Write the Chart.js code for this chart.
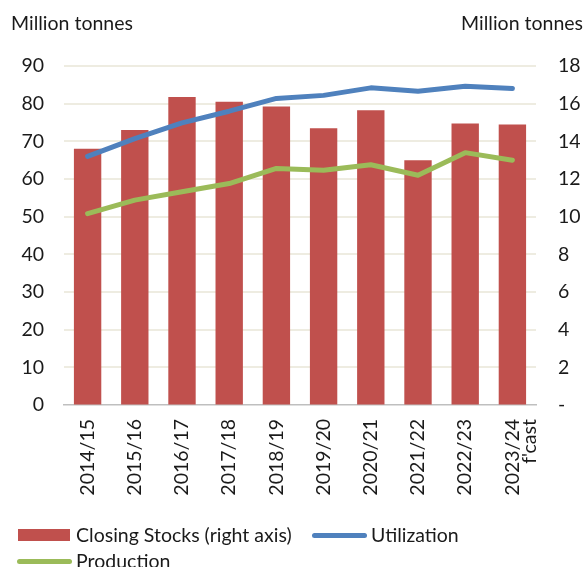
<!DOCTYPE html>
<html>
<head>
<meta charset="utf-8">
<script src="https://cdn.jsdelivr.net/npm/chart.js@4/dist/chart.umd.min.js"></script>
<style>
  html, body { margin: 0; padding: 0; background: #fff; }
  #wrap { position: relative; width: 583px; height: 567px; font-family: Lato, sans-serif; color: #1a1a1a; }
  #chart { position: absolute; left: 0; top: 0; }
  .unit { position: absolute; top: 11px; font-size: 19.5px; line-height: 24px; white-space: nowrap; }
  .legend-item { position: absolute; font-size: 19.5px; line-height: 22px; white-space: nowrap; }
  .swatch { position: absolute; }
</style>
</head>
<body>
<div id="wrap">
  <canvas id="chart" width="583" height="567"></canvas>
  <div class="unit" style="left:11px">Million tonnes</div>
  <div class="unit" style="right:0px">Million tonnes</div>
  <div id="legend"></div>
</div>
<script>
const seasons = ["2014/15", "2015/16", "2016/17", "2017/18", "2018/19",
  "2019/20", "2020/21", "2021/22", "2022/23", ["2023/24", "f'cast"]];
// closing stocks are read on the right axis
const closingStocks = [13.6, 14.6, 16.35, 16.1, 15.85, 14.7, 15.65, 13.0, 14.95, 14.9];
const utilization = [66.0, 70.7, 74.9, 78.0, 81.4, 82.2, 84.2, 83.3, 84.6, 84.0];
const production = [50.8, 54.4, 56.6, 58.8, 62.8, 62.3, 63.8, 61.0, 67.0, 65.0];

const COLORS = { stocks: "#C0504D", util: "#4F81BD", prod: "#9BBB59" };

Chart.defaults.font.family = "Lato, sans-serif";
Chart.defaults.font.size = 19.5;
Chart.defaults.color = "#1a1a1a";

const lineStyle = (color) => ({
  borderColor: color,
  backgroundColor: color,
  borderWidth: 5,
  borderCapStyle: "round",
  borderJoinStyle: "round",
  pointRadius: 0,
  tension: 0,
  fill: false,
});

new Chart(document.getElementById("chart").getContext("2d"), {
  type: "bar",
  data: {
    labels: seasons,
    datasets: [
      {
        type: "bar",
        label: "Closing Stocks (right axis)",
        data: closingStocks,
        yAxisID: "yRight",
        backgroundColor: COLORS.stocks,
        categoryPercentage: 1,
        barPercentage: 0.58,
        order: 3,
      },
      { type: "line", label: "Utilization", data: utilization, yAxisID: "y", order: 1, ...lineStyle(COLORS.util) },
      { type: "line", label: "Production", data: production, yAxisID: "y", order: 2, ...lineStyle(COLORS.prod) },
    ],
  },
  options: {
    responsive: false,
    animation: false,
    layout: { padding: { top: 66, left: 0, right: 0, bottom: 52 } },
    plugins: { legend: { display: false }, tooltip: { enabled: false } },
    scales: {
      x: {
        grid: { display: false, drawTicks: false },
        border: { display: true, color: "#BFBFBF", width: 1.5 },
        ticks: { autoSkip: false, minRotation: 90, maxRotation: 90, padding: 14, font: { lineHeight: 0.9 } },
        afterFit: (scale) => { scale.height = 110; },
      },
      y: {
        position: "left",
        min: 0,
        max: 90,
        ticks: { stepSize: 10, padding: 20 },
        grid: {
          drawTicks: false,
          lineWidth: 2,
          color: (ctx) => (ctx.tick && ctx.tick.value === 0 ? "rgba(0,0,0,0)" : "#EEECE1"),
        },
        border: { display: false },
        afterFit: (scale) => { scale.width = 64; },
      },
      yRight: {
        position: "right",
        min: 0,
        max: 18,
        ticks: { stepSize: 2, padding: 22, callback: (v) => (v === 0 ? "-" : v) },
        grid: { drawOnChartArea: false, drawTicks: false },
        border: { display: false },
        afterFit: (scale) => { scale.width = 47; },
      },
    },
  },
});

// legend below the plot, two rows
const legendItems = [
  { text: "Closing Stocks (right axis)", color: COLORS.stocks, kind: "box", x: 18, y: 535 },
  { text: "Utilization", color: COLORS.util, kind: "line", x: 312, y: 535 },
  { text: "Production", color: COLORS.prod, kind: "line", x: 17, y: 561 },
];
const legend = document.getElementById("legend");
legendItems.forEach((item) => {
  const sw = document.createElement("div");
  sw.className = "swatch";
  sw.style.background = item.color;
  sw.style.left = item.x + "px";
  if (item.kind === "box") {
    sw.style.width = "52px";
    sw.style.height = "12px";
    sw.style.top = item.y - 6 + "px";
  } else {
    sw.style.width = "55px";
    sw.style.height = "5px";
    sw.style.borderRadius = "3px";
    sw.style.top = item.y - 2.5 + "px";
  }
  legend.appendChild(sw);
  const label = document.createElement("div");
  label.className = "legend-item";
  label.textContent = item.text;
  label.style.left = item.x + (item.kind === "box" ? 58 : 59) + "px";
  label.style.top = item.y - 11 + "px";
  legend.appendChild(label);
});
</script>
</body>
</html>
